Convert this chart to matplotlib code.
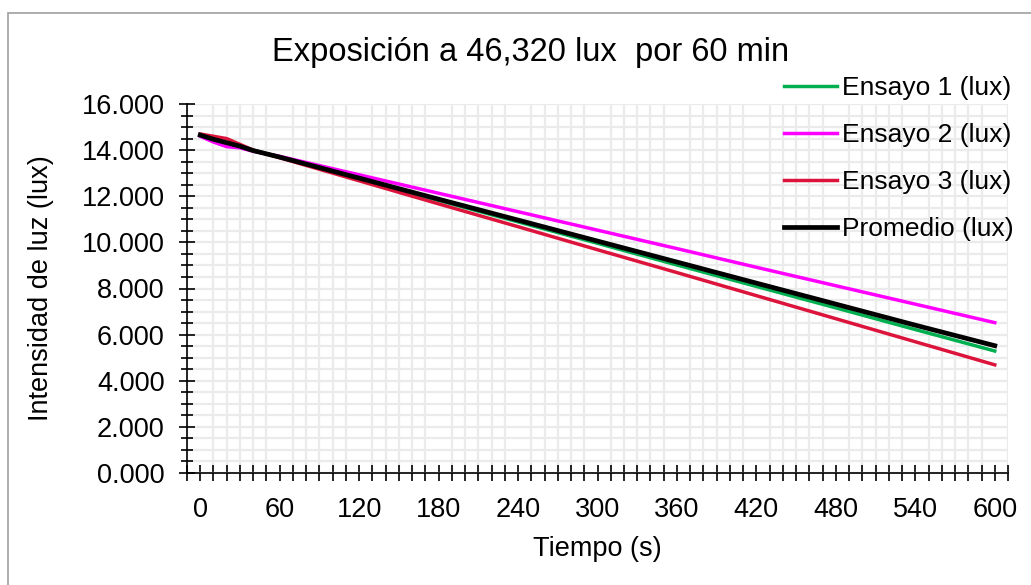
import numpy as np
import matplotlib
matplotlib.use("Agg")
import matplotlib.pyplot as plt
from matplotlib.ticker import MultipleLocator, FuncFormatter
from matplotlib.patches import Rectangle

plt.rcParams['font.family'] = ['Liberation Sans', 'DejaVu Sans']

tiempo = [0, 10, 20, 30, 40, 60, 120, 180, 240, 300, 360, 420, 480, 540, 600]
ensayo1 = [14650, 14450, 14300, 14150, 14000, 13690, 12760, 11820, 10890,
           9960, 9020, 8090, 7160, 6220, 5290]
ensayo2 = [14600, 14350, 14150, 14100, 13950, 13730, 12930, 12130, 11330,
           10530, 9730, 8920, 8120, 7320, 6520]
ensayo3 = [14700, 14600, 14500, 14250, 14000, 13670, 12670, 11670, 10680,
           9680, 8690, 7690, 6690, 5690, 4690]
promedio = [14650, 14470, 14320, 14170, 13980, 13697, 12787, 11873, 10967,
            10057, 9147, 8233, 7323, 6410, 5520]

fig = plt.figure(figsize=(10.31, 5.85), dpi=100)
ax = fig.add_axes([187/1031, 1 - 473/585, (1008 - 187)/1031, (473 - 104)/585])

ax.plot(tiempo, ensayo1, color='#00B050', lw=2.5, label='Ensayo 1 (lux)')
ax.plot(tiempo, ensayo2, color='#FF00FF', lw=2.5, label='Ensayo 2 (lux)')
ax.plot(tiempo, ensayo3, color='#DC143C', lw=2.5, label='Ensayo 3 (lux)')
ax.plot(tiempo, promedio, color='black', lw=3.4, label='Promedio (lux)')

ax.set_xlim(-10, 610)
ax.set_ylim(0, 16000)
ax.xaxis.set_major_locator(MultipleLocator(60))
ax.xaxis.set_minor_locator(MultipleLocator(10))
ax.yaxis.set_major_locator(MultipleLocator(2000))
ax.yaxis.set_minor_locator(MultipleLocator(500))
ax.yaxis.set_major_formatter(FuncFormatter(lambda v, p: f"{v/1000:.3f}"))

ax.grid(True, which='minor', color='#EBEBEB', lw=1.6)
ax.grid(True, which='major', axis='y', color='#EBEBEB', lw=1.6)
ax.set_axisbelow(True)
for s in ['top', 'right']:
    ax.spines[s].set_visible(False)
ax.spines['left'].set_linewidth(1.2)
ax.spines['bottom'].set_linewidth(1.2)

ax.tick_params(which='both', direction='inout', labelsize=19.5, width=1.2)
ax.tick_params(axis='y', which='major', length=12, pad=10)
ax.tick_params(axis='y', which='minor', length=8)
ax.tick_params(axis='x', which='both', length=11)
ax.tick_params(axis='x', which='major', pad=12)

ax.set_xlabel('Tiempo (s)', fontsize=19.5, labelpad=9)
ax.set_ylabel('Intensidad de luz (lux)', fontsize=19.5, labelpad=20)
fig.text(531/1031, 1 - 52/585, 'Exposición a 46,320 lux  por 60 min',
         fontsize=23.5, ha='center', va='center')

fig.legend(loc='upper right', bbox_to_anchor=(1.006, 1 - 52/585), frameon=False,
           fontsize=19, handlelength=2.0, handletextpad=0.2, labelspacing=0.88)

fig.patches.append(Rectangle((8/1031, -0.05), 1.1, 1 - 13/585 + 0.05,
                             transform=fig.transFigure, fill=False,
                             edgecolor='#A0A0A0', lw=1.2))

fig.savefig('out.png', dpi=100)
